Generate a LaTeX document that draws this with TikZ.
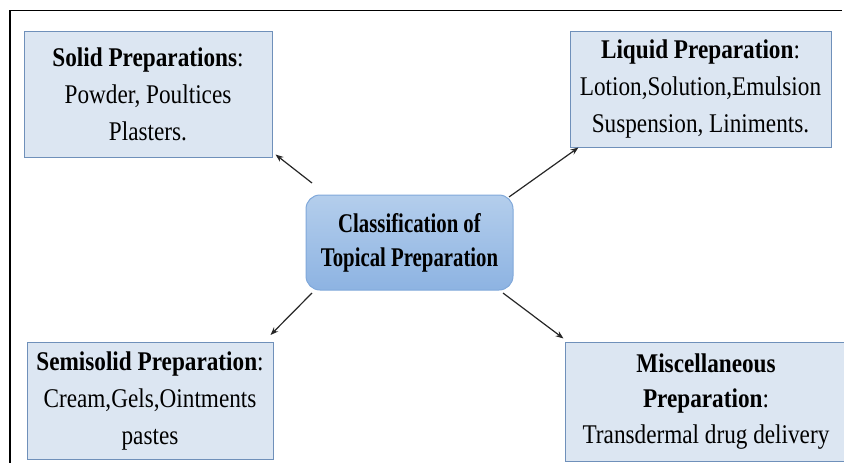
\documentclass[tikz,border=0pt]{standalone}
\usepackage{fontspec}
\setmainfont{Liberation Serif}
\newfontfamily\boxfont{Liberation Serif}[FakeStretch=0.86]
\newfontfamily\ctrfont{Liberation Serif}[FakeStretch=0.77]
\usetikzlibrary{arrows.meta,calc}
\definecolor{boxfill}{HTML}{DCE6F2}
\definecolor{boxline}{HTML}{6F90BA}
\definecolor{ctrtop}{HTML}{B4CEEC}
\definecolor{ctrbot}{HTML}{8DB3E2}
\definecolor{ctrline}{HTML}{80A8DA}
\tikzset{
  outerbox/.style={draw=boxline, line width=1pt, fill=boxfill, align=center,
    inner sep=0pt, font=\boxfont\fontsize{27pt}{37pt}\selectfont},
  ctrbox/.style={draw=ctrline, line width=1pt, rounded corners=14pt,
    top color=ctrtop, bottom color=ctrbot, align=center, inner sep=0pt,
    font=\ctrfont\bfseries\fontsize{27pt}{34pt}\selectfont},
  link/.style={line width=1.2pt, draw=black!85, -{Stealth[length=8pt,width=6pt]}},
  frameline/.style={line width=1.8pt, black}
}
\begin{document}
\begin{tikzpicture}[x=1pt,y=-1pt]
\useasboundingbox (0,0) rectangle (844,463);
\coordinate (ftl) at (10,10.5);
\coordinate (ftr) at (842,10.5);
\coordinate (fbl) at (10,463);
\draw[frameline] (ftr) -- (ftl) -- (fbl);

\node[outerbox, minimum width=248pt, minimum height=126pt] (solid) at (148,94)
  {\textbf{Solid Preparations}:\\Powder, Poultices\\Plasters.};
\node[outerbox, minimum width=261pt, minimum height=116pt] (liquid) at (700.5,89)
  {\textbf{Liquid Preparation}:\\Lotion,Solution,Emulsion\\Suspension, Liniments.};
\node[outerbox, minimum width=246pt, minimum height=117pt] (semi) at (150,401)
  {\textbf{Semisolid Preparation}:\\Cream,Gels,Ointments\\pastes};
\node[outerbox, minimum width=282pt, minimum height=119pt,
  font=\boxfont\fontsize{27pt}{35.5pt}\selectfont] (misc) at (706,401.5)
  {\textbf{Miscellaneous}\\\textbf{Preparation}:\\Transdermal drug delivery};
\node[ctrbox, minimum width=207pt, minimum height=95pt] (ctr) at (409.5,242.5)
  {Classification of\\Topical Preparation};

\coordinate (a1) at (312,183);
\coordinate (a2) at (509,197);
\coordinate (a3) at (312,293);
\coordinate (a4) at (503,293);
\coordinate (t1) at ($(solid.south east)+(3,-3)$);
\coordinate (t2) at ($(liquid.south west)+(9,0)$);
\coordinate (t3) at ($(semi.north east)+(-3,-7)$);
\coordinate (t4) at ($(misc.north west)+(-1,-3)$);
\draw[link] (a1) -- (t1);
\draw[link] (a2) -- (t2);
\draw[link] (a3) -- (t3);
\draw[link] (a4) -- (t4);
\end{tikzpicture}
\end{document}
